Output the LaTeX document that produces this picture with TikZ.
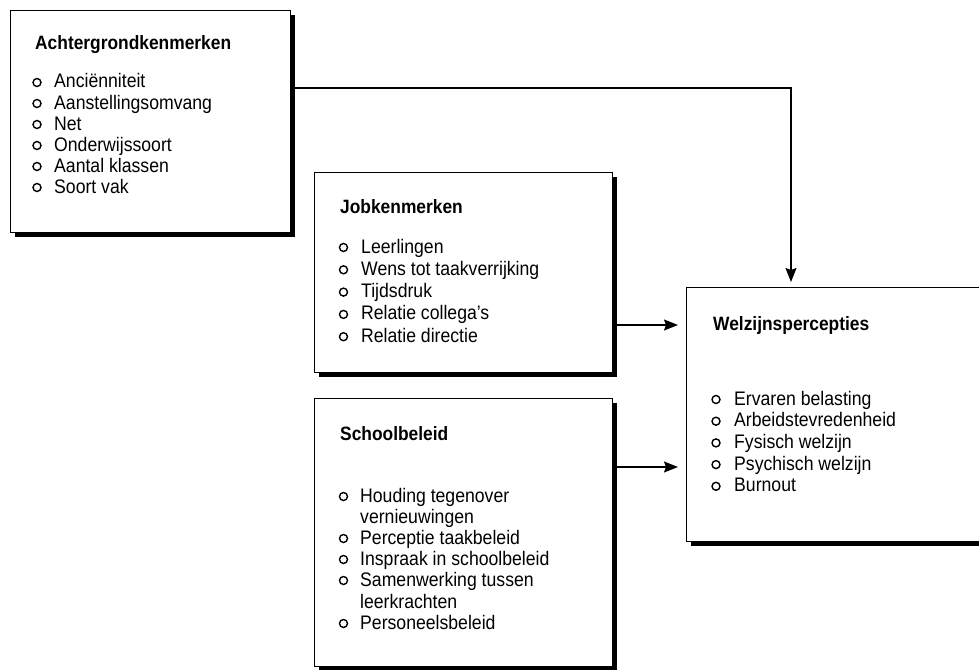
\documentclass[tikz,border=0pt]{standalone}
\usepackage{fontspec}
\setmainfont{Liberation Sans}[FakeStretch=0.9]
\usetikzlibrary{shadows,arrows.meta}
\begin{document}
\begin{tikzpicture}[x=1pt,y=-1pt,
  box/.style={draw, line width=1.1pt, fill=white, rectangle, anchor=north west, inner sep=0pt,
    drop shadow={shadow xshift=4pt, shadow yshift=-4pt, fill=black, opacity=1}},
  titletext/.style={anchor=base west, font=\fontsize{19.3}{21}\selectfont\bfseries, inner sep=0pt},
  itemtext/.style={anchor=base west, font=\fontsize{19.6}{21}\selectfont, inner sep=0pt},
  bul/.style={circle, draw, line width=1.4pt, minimum size=8pt, inner sep=0pt},
  conn/.style={line width=1.5pt, -{Stealth[length=14pt,width=11pt,inset=2pt]}}]
\useasboundingbox (0,0) rectangle (979,669);
\fill[white] (0,0) rectangle (979,669);

% boxes
\node[box, minimum width=280pt, minimum height=222pt] (A) at (10,10) {};
\node[box, minimum width=298pt, minimum height=200pt] (B) at (314,172) {};
\node[box, minimum width=298pt, minimum height=268pt] (C) at (314,398) {};
\node[box, minimum width=300pt, minimum height=254pt] (W) at (686,287) {};

% Achtergrondkenmerken
\node[titletext] (At) at (35,49) {Achtergrondkenmerken};
\foreach \t [count=\i] in {Anciënniteit, Aanstellingsomvang, Net, Onderwijssoort, Aantal klassen, Soort vak} {
  \pgfmathsetmacro\yy{88+21*(\i-1)}
  \node[itemtext] (a\i) at (54,\yy) {\t};
  \node[bul] (ab\i) at (37,\yy-5.5) {};
}

% Jobkenmerken
\node[titletext] (Bt) at (340,213) {Jobkenmerken};
\foreach \t [count=\i] in {Leerlingen, Wens tot taakverrijking, Tijdsdruk, Relatie collega's, Relatie directie} {
  \pgfmathsetmacro\yy{253+22.3*(\i-1)}
  \node[itemtext] (b\i) at (361,\yy) {\t};
  \node[bul] (bb\i) at (343.5,\yy-5.5) {};
}

% Schoolbeleid
\node[titletext] (Ct) at (340,440) {Schoolbeleid};
\node[itemtext] (c1) at (360,502) {Houding tegenover};
\node[itemtext] (c1b) at (360,523) {vernieuwingen};
\node[itemtext] (c2) at (360,544) {Perceptie taakbeleid};
\node[itemtext] (c3) at (360,565) {Inspraak in schoolbeleid};
\node[itemtext] (c4) at (360,586) {Samenwerking tussen};
\node[itemtext] (c4b) at (360,608) {leerkrachten};
\node[itemtext] (c5) at (360,629) {Personeelsbeleid};
\foreach \yy [count=\i] in {502,544,565,586,629} {
  \node[bul] (cb\i) at (343.5,\yy-5.5) {};
}

% Welzijnspercepties
\node[titletext] (Wt) at (713,330) {Welzijnspercepties};
\foreach \t [count=\i] in {Ervaren belasting, Arbeidstevredenheid, Fysisch welzijn, Psychisch welzijn, Burnout} {
  \pgfmathsetmacro\yy{405+21.7*(\i-1)}
  \node[itemtext] (w\i) at (734,\yy) {\t};
  \node[bul] (wb\i) at (716,\yy-5.5) {};
}

% connectors
\draw[conn, shorten >=5pt] (A.east |- 0,88) -| (W.north west -| 791,0);
\draw[conn, shorten >=8pt] (B.east |- 0,325) -- (W.west |- 0,325);
\draw[conn, shorten >=8pt] (C.east |- 0,467) -- (W.west |- 0,467);
\end{tikzpicture}
\end{document}
